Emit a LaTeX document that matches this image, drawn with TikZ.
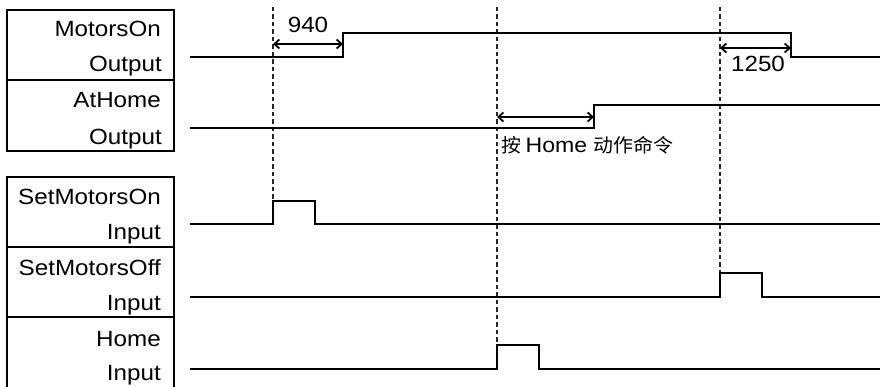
\documentclass[tikz,border=0pt]{standalone}
\usepackage{fontspec}
\setmainfont{Liberation Sans}
\newfontfamily\latf[FakeStretch=1.1]{Liberation Sans}
\newfontfamily\cjkf[FakeStretch=1.05]{Noto Sans CJK SC}
\usetikzlibrary{arrows.meta}
\begin{document}
\begin{tikzpicture}[x=1pt,y=-1pt,
  box/.style={draw=black,line width=2pt},
  lbl/.style={anchor=base east,inner sep=0pt,font=\latf\fontsize{22}{23}\selectfont},
  sig/.style={draw=black,line width=2pt},
  guide/.style={draw=black!85,line width=1.1pt,dash pattern=on 4.5pt off 3pt},
  dim/.style={draw=black,line width=1.8pt,{Straight Barb[length=5pt,width=9pt]}-{Straight Barb[length=5pt,width=9pt]}},
  num/.style={inner sep=0pt,font=\latf\fontsize{22}{23}\selectfont}]
\useasboundingbox (0,0) rectangle (880,387);
% boxes
\draw[box] (7,10.5) rectangle (174,80);
\draw[box] (7,80) rectangle (174,151);
\draw[box] (7,177) rectangle (174,247);
\draw[box] (7,247) rectangle (174,317);
\draw[box] (7,317) rectangle (174,389);
% labels
\node[lbl] (l1a) at (161,37) {MotorsOn};
\node[lbl] (l1b) at (162,72) {Output};
\node[lbl] (l2a) at (161,108) {AtHome};
\node[lbl] (l2b) at (162,145) {Output};
\node[lbl] (l3a) at (161,205) {SetMotorsOn};
\node[lbl] (l3b) at (161,240) {Input};
\node[lbl] (l4a) at (161,275) {SetMotorsOff};
\node[lbl] (l4b) at (161,310) {Input};
\node[lbl] (l5a) at (161,346) {Home};
\node[lbl] (l5b) at (161,380) {Input};
% guide lines
\draw[guide] (273,7) -- (273,201);
\draw[guide] (497,7) -- (497,345);
\draw[guide] (720,7) -- (720,273);
% signals
\draw[sig] (190,57) -- (343,57) -- (343,33) -- (791,33) -- (791,57) -- (880,57);
\draw[sig] (190,128) -- (594,128) -- (594,105) -- (880,105);
\draw[sig] (190,224) -- (273,224) -- (273,201) -- (315,201) -- (315,224) -- (880,224);
\draw[sig] (190,297) -- (720,297) -- (720,273) -- (762,273) -- (762,297) -- (880,297);
\draw[sig] (190,369) -- (497,369) -- (497,345) -- (539,345) -- (539,369) -- (880,369);
% dimension arrows
\coordinate (a1) at (273,44); \coordinate (b1) at (343,44);
\coordinate (a2) at (720,48); \coordinate (b2) at (791,48);
\coordinate (a3) at (497,117); \coordinate (b3) at (594,117);
\draw[dim] (a1) -- (b1);
\draw[dim] (a2) -- (b2);
\draw[dim] (a3) -- (b3);
\node[num,anchor=base] (t1) at (308,33) {940};
\node[num,anchor=base] (t2) at (758,72) {1250};
\node[anchor=base west,inner sep=0pt] (t3) at (501,153) {{\cjkf\fontsize{19}{20}\selectfont 按 }{\latf\fontsize{21}{22}\selectfont Home }{\cjkf\fontsize{19}{20}\selectfont 动作命令}};
\end{tikzpicture}
\end{document}
